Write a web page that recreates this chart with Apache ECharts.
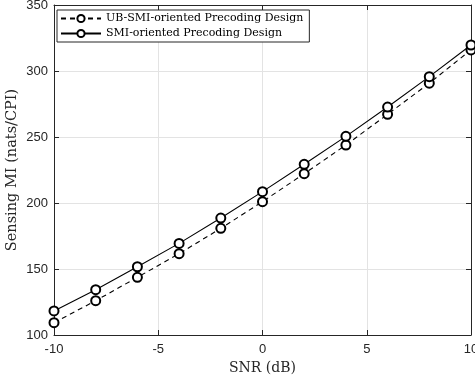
<!DOCTYPE html>
<html><head><meta charset="utf-8">
<script src="https://cdn.jsdelivr.net/npm/echarts@6/dist/echarts.min.js"></script>
<style>html,body{margin:0;padding:0;background:#fff;}#c{width:475px;height:382px;}</style>
</head><body><div id="c"></div>
<script>
const snr = [-10, -8, -6, -4, -2, 0, 2, 4, 6, 8, 10];
const ubSmi = [109.3, 126.0, 143.7, 161.6, 180.8, 201.0, 222.2, 243.9, 267.2, 290.8, 316.0];
const smi = [118.2, 134.3, 151.7, 169.4, 188.6, 208.6, 229.3, 250.5, 272.7, 295.7, 319.7];
const seriesNames = ['UB-SMI-oriented Precoding Design', 'SMI-oriented Precoding Design'];
const xTicks = [-10, -5, 0, 5, 10];
const yTicks = [100, 150, 200, 250, 300, 350];

const chart = echarts.init(document.getElementById('c'), null, {renderer: 'canvas'});
const axisCol = '#262626';
const tickFont = {fontFamily: 'Liberation Sans, Arial, sans-serif', fontSize: 13, color: '#262626'};
const serif = 'DejaVu Serif, Liberation Serif, serif';
const pair = (xs, ys) => xs.map((x, i) => [x, ys[i]]);
const boxAxis = {
  axisLine: {show: true, onZero: false, lineStyle: {color: axisCol, width: 1}},
  axisTick: {show: true, inside: true, length: 5, lineStyle: {color: axisCol}},
  axisLabel: {show: false}, splitLine: {show: false}
};
chart.setOption({
  animation: false,
  grid: {left: 54, right: 4, top: 5, bottom: 47, containLabel: false, outerBoundsMode: 'none'},
  legend: {
    left: 57, top: 10, orient: 'vertical',
    padding: [3, 6, 3, 3], itemGap: 4,
    itemWidth: 40, itemHeight: 9,
    backgroundColor: '#fff', borderColor: axisCol, borderWidth: 1, borderRadius: 0,
    textStyle: {fontFamily: serif, fontSize: 11, color: '#000'},
    data: seriesNames
  },
  xAxis: [{
    type: 'value', min: xTicks[0], max: xTicks[xTicks.length - 1], interval: 5,
    name: 'SNR (dB)', nameLocation: 'middle', nameGap: 26, nameMoveOverlap: false,
    nameTextStyle: {fontFamily: serif, fontSize: 14, color: '#262626'},
    axisLine: {onZero: false, lineStyle: {color: axisCol, width: 1}},
    axisTick: {inside: true, length: 5, lineStyle: {color: axisCol}},
    axisLabel: Object.assign({margin: 8}, tickFont),
    splitLine: {show: true, lineStyle: {color: '#e3e3e3', width: 1}}
  }, Object.assign({
    type: 'value', position: 'top', min: xTicks[0], max: xTicks[xTicks.length - 1], interval: 5
  }, boxAxis)],
  yAxis: [{
    type: 'value', min: yTicks[0], max: yTicks[yTicks.length - 1], interval: 50,
    name: 'Sensing MI (nats/CPI)', nameLocation: 'middle', nameGap: 34, nameMoveOverlap: false,
    nameTextStyle: {fontFamily: serif, fontSize: 14.5, color: '#262626'},
    axisLine: {show: true, onZero: false, lineStyle: {color: axisCol, width: 1}},
    axisTick: {show: true, inside: true, length: 5, lineStyle: {color: axisCol}},
    axisLabel: Object.assign({margin: 6}, tickFont),
    splitLine: {show: true, lineStyle: {color: '#e3e3e3', width: 1}}
  }, Object.assign({
    type: 'value', position: 'right', min: yTicks[0], max: yTicks[yTicks.length - 1], interval: 50
  }, boxAxis)],
  series: [{
    name: seriesNames[0], type: 'line', data: pair(snr, ubSmi),
    symbol: 'emptyCircle', symbolSize: 9,
    lineStyle: {color: '#000', width: 1.1, type: [5, 4]},
    itemStyle: {color: '#000', borderWidth: 1},
    z: 3
  }, {
    name: seriesNames[1], type: 'line', data: pair(snr, smi),
    symbol: 'emptyCircle', symbolSize: 9,
    lineStyle: {color: '#000', width: 1.1, type: 'solid'},
    itemStyle: {color: '#000', borderWidth: 1},
    z: 4
  }]
});
</script></body></html>
